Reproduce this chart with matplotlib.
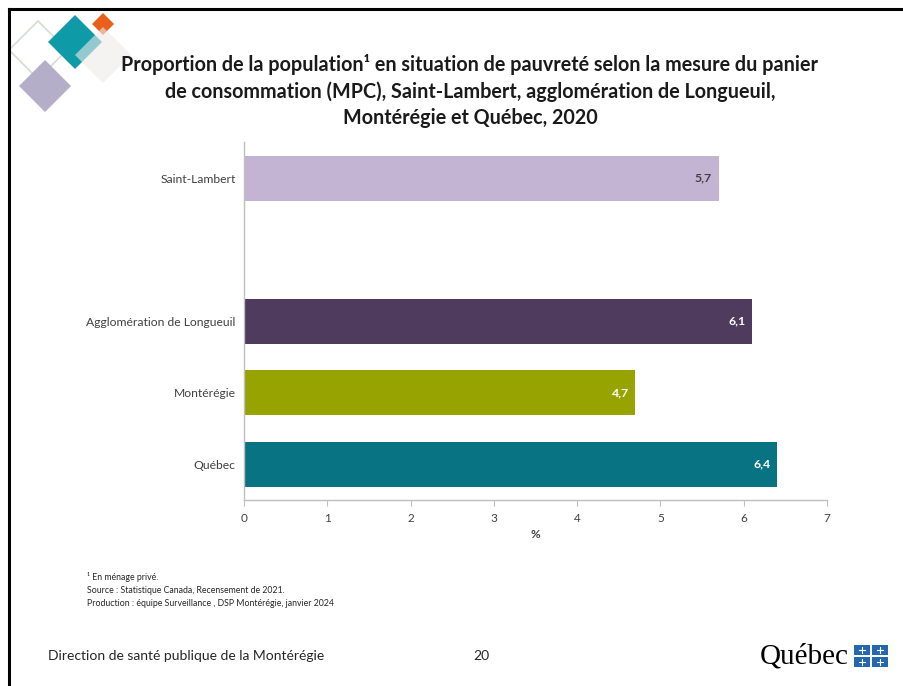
import numpy as np
import matplotlib.pyplot as plt
from matplotlib.patches import Polygon, Rectangle
from matplotlib.lines import Line2D

plt.rcParams['font.family'] = ['Lato', 'DejaVu Sans']

# data (bottom to top, blank row is the gap in the original)
categories = ['Québec', 'Montérégie', 'Agglomération de Longueuil', '', 'Saint-Lambert']
values = [6.4, 4.7, 6.1, np.nan, 5.7]
colors = ['#087383', '#96A300', '#4E3B5E', 'none', '#C3B4D3']
label_colors = ['white', 'white', 'white', 'none', '#404040']
xticks = [0, 1, 2, 3, 4, 5, 6, 7]

W, H = 904, 686
fig = plt.figure(figsize=(W / 100, H / 100), dpi=100)


def px(x, y):
    # pixel coords (top-left origin) -> figure fraction
    return x / W, 1 - y / H


# slide frame
fig.add_artist(Line2D([px(9, 0)[0], 1], [px(0, 9)[1]] * 2, color='black', lw=2.2))
fig.add_artist(Line2D([px(9, 0)[0]] * 2, [0, px(0, 9)[1]], color='black', lw=2.2))


# decorative diamonds top-left
def diamond(cx, cy, r, **kw):
    pts = [px(cx, cy - r), px(cx + r, cy), px(cx, cy + r), px(cx - r, cy)]
    fig.add_artist(Polygon(pts, closed=True, transform=fig.transFigure, **kw))


diamond(38, 50, 29, facecolor='none', edgecolor='#D5DDD2', lw=1.2)
diamond(45, 86, 26, facecolor='#B5AEC9', edgecolor='none')
diamond(75, 42, 27, facecolor='#0E9AA7', edgecolor='none')
diamond(103, 24, 11, facecolor='#E8601C', edgecolor='none')
diamond(103, 55, 28, facecolor='#EEEBEA', edgecolor='none', alpha=0.6)

# title
title = ('Proportion de la population¹ en situation de pauvreté selon la mesure du panier\n'
         'de consommation (MPC), Saint-Lambert, agglomération de Longueuil,\n'
         'Montérégie et Québec, 2020')
fig.text(*px(470, 91), title, ha='center', va='center', fontsize=14.2,
         fontweight='bold', color='#1a1a1a', linespacing=1.38)

# chart
ax = fig.add_axes([244 / W, 1 - 500 / H, (827 - 244) / W, (500 - 142.5) / H])
y = np.arange(len(categories))
ax.barh(y, values, height=0.63, color=colors)
for yi, v, lc in zip(y, values, label_colors):
    if np.isnan(v):
        continue
    ax.text(v - 0.08, yi, f'{v:.1f}'.replace('.', ','), ha='right', va='center',
            fontsize=8.8, fontweight='bold', color=lc)

ax.set_xlim(0, 7)
ax.set_ylim(-0.5, len(categories) - 0.5)
ax.set_xticks(xticks)
ax.set_yticks(y)
ax.set_yticklabels(categories)
ax.tick_params(axis='y', length=0, labelsize=8.7, labelcolor='#404040', pad=6)
ax.tick_params(axis='x', length=4, color='#BFBFBF', labelsize=8.5, labelcolor='#404040', pad=5)
for s in ['top', 'right']:
    ax.spines[s].set_visible(False)
for s in ['left', 'bottom']:
    ax.spines[s].set_color('#BFBFBF')
    ax.spines[s].set_linewidth(1)
ax.set_xlabel('%', fontsize=8.5, fontweight='bold', color='#404040', labelpad=4)

# notes
notes = ('¹ En ménage privé.\n'
         'Source : Statistique Canada, Recensement de 2021.\n'
         'Production : équipe Surveillance , DSP Montérégie, janvier 2024')
fig.text(*px(87, 590), notes, ha='left', va='center', fontsize=6.3, color='#262626',
         linespacing=1.6)

# footer
fig.text(*px(48, 656), 'Direction de santé publique de la Montérégie', ha='left',
         va='center', fontsize=10, color='#262626')
fig.text(*px(481, 656), '20', ha='center', va='center', fontsize=10, color='#262626')

# Québec logo
fig.text(*px(804, 656), 'Québec', ha='center', va='center', fontsize=21,
         family='Liberation Serif', color='black')
for cx, cy in [(862, 650), (880, 650), (862, 662), (880, 662)]:
    x0, y0 = px(cx - 8, cy + 5)
    fig.add_artist(Rectangle((x0, y0), 16 / W, 10 / H, transform=fig.transFigure,
                             facecolor='#2466B0', edgecolor='none'))
    fig.add_artist(Line2D([px(cx - 3, 0)[0], px(cx + 3, 0)[0]], [px(0, cy)[1]] * 2,
                          color='white', lw=0.8))
    fig.add_artist(Line2D([px(cx, 0)[0]] * 2, [px(0, cy - 3)[1], px(0, cy + 3)[1]],
                          color='white', lw=0.8))

fig.savefig('out.png', dpi=100)
